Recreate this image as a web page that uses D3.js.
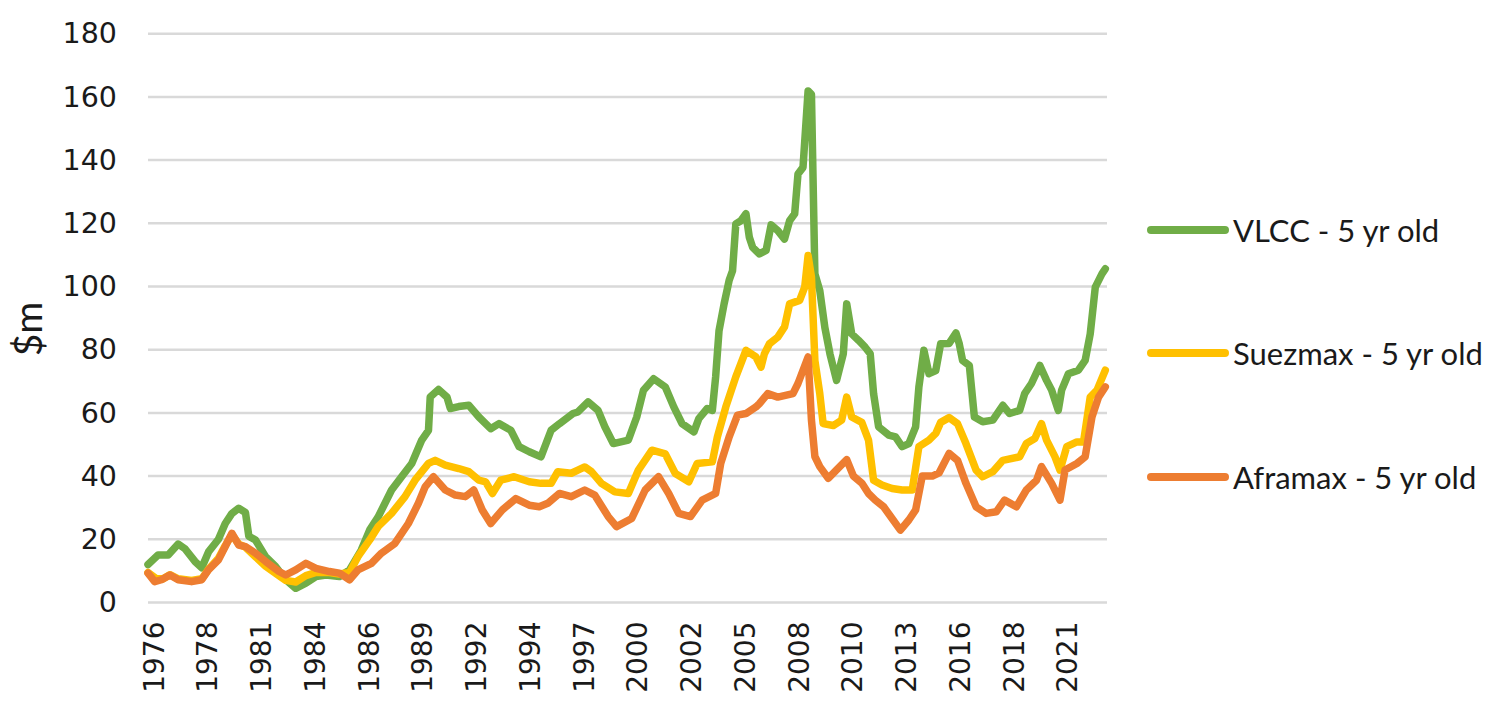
<!DOCTYPE html>
<html>
<head>
<meta charset="utf-8">
<script src="https://cdn.jsdelivr.net/npm/d3@7"></script>
<style>
  html, body { margin: 0; padding: 0; background: #ffffff; }
  svg { display: block; }
</style>
</head>
<body>
<svg id="chart" width="1505" height="709"></svg>
<script>
// ---------------- DATA ----------------
const seriesNames = ["VLCC - 5 yr old", "Suezmax - 5 yr old", "Aframax - 5 yr old"];

const yTicks = [0, 20, 40, 60, 80, 100, 120, 140, 160, 180];

const xTickDates = ["1976-04", "1978-12", "1981-08", "1984-04", "1986-12", "1989-08",
  "1992-04", "1994-12", "1997-08", "2000-04", "2002-12", "2005-08", "2008-04",
  "2010-12", "2013-08", "2016-04", "2018-12", "2021-08"];
const xTickLabels = ["1976", "1978", "1981", "1984", "1986", "1989", "1992", "1994",
  "1997", "2000", "2002", "2005", "2008", "2010", "2013", "2016", "2018", "2021"];

const vlccDates = ["1976-01","1976-07","1977-01","1977-07","1977-11","1978-05","1978-09","1979-01","1979-07","1979-11",
  "1980-03","1980-07","1980-11","1981-01","1981-05","1981-11","1982-05","1982-11","1983-05","1983-11",
  "1984-05","1984-11","1985-07","1986-01","1986-08","1987-01","1987-06","1988-02","1988-08","1989-02",
  "1989-08","1989-12","1990-01","1990-06","1990-11","1991-01","1991-06","1991-12","1992-06","1993-01",
  "1993-06","1994-01","1994-06","1994-12","1995-07","1996-01","1996-06","1997-02","1997-05","1997-11",
  "1998-05","1998-09","1999-02","1999-11","2000-04","2000-08","2001-02","2001-09","2002-02","2002-07",
  "2003-02","2003-05","2003-10","2004-01","2004-03","2004-05","2004-08","2004-11","2005-01","2005-03",
  "2005-06","2005-09","2005-11","2006-01","2006-05","2006-09","2006-12","2007-04","2007-08","2007-11",
  "2008-02","2008-04","2008-07","2008-10","2008-12","2009-02","2009-05","2009-08","2009-11","2010-03",
  "2010-07","2010-09","2010-12","2011-04","2011-08","2011-11","2012-01","2012-04","2012-10","2013-02",
  "2013-06","2013-10","2014-02","2014-04","2014-07","2014-10","2015-02","2015-05","2015-10","2016-02",
  "2016-04","2016-06","2016-10","2017-01","2017-06","2017-12","2018-06","2018-10","2019-04","2019-07",
  "2019-11","2020-04","2020-08","2020-11","2021-03","2021-05","2021-09","2022-03","2022-07","2022-10",
  "2023-01","2023-05","2023-07"];
const vlccValues = [12,15,15,18.5,17,13,11,16,20,25,
  28.2,29.8,28.5,21,19.8,14.5,11.4,7.2,4.5,6.1,
  8.2,8.7,8.2,10.3,16.6,23,27,35.6,39.8,44,
  51.4,54.5,65,67.4,65,61.4,62,62.4,58.7,55,
  56.6,54.5,49.3,47.7,46.1,54.5,56.6,59.8,60.3,63.5,
  60.8,55.6,50.3,51.4,58.7,67.2,70.8,68.2,61.9,56.6,
  54,58.2,61.4,60.8,71.4,86,94.5,102,105,119.8,
  120.8,123,115.6,112.4,110.3,111.4,119.5,117.7,115,120.8,
  123,135.6,137.7,161.9,160.8,104,98.7,87,78.7,70.3,
  78.7,94.5,85,83,80.8,78.7,66.1,55.6,53,52.4,
  49.3,50.3,55.6,68.2,79.8,72.4,73.4,81.9,82,85.3,
  81.9,76.6,75,58.7,57.2,57.7,62.4,59.8,60.8,66.1,
  69.3,75,70.3,67.2,60.8,67.2,72.4,73.5,76.6,85,
  99.8,104,105.6];

const suezDates = ["1976-01","1976-06","1976-10","1977-02","1977-07","1978-03","1978-09","1979-01","1979-07","1979-11",
  "1980-03","1980-07","1980-11","1981-05","1981-11","1982-07","1982-11","1983-05","1983-11","1984-05",
  "1985-01","1985-07","1986-01","1986-06","1987-01","1987-06","1988-02","1988-10","1989-04","1989-12",
  "1990-04","1990-10","1991-06","1991-12","1992-06","1992-10","1993-02","1993-07","1994-03","1994-12",
  "1995-07","1996-01","1996-05","1997-01","1997-05","1997-09","1998-01","1998-07","1999-03","1999-11",
  "2000-05","2001-01","2001-09","2002-03","2002-11","2003-04","2004-01","2004-04","2004-09","2005-03",
  "2005-09","2006-03","2006-06","2006-08","2006-11","2007-04","2007-08","2007-11","2008-05","2008-08",
  "2008-10","2008-12","2009-02","2009-05","2009-07","2010-01","2010-06","2010-09","2010-12","2011-06",
  "2011-10","2012-01","2012-06","2012-12","2013-06","2013-12","2014-04","2014-10","2015-02","2015-05",
  "2015-10","2016-03","2016-08","2017-02","2017-06","2017-12","2018-06","2019-04","2019-08","2020-01",
  "2020-05","2020-08","2021-01","2021-04","2021-08","2022-02","2022-06","2022-10","2023-02","2023-07"];
const suezValues = [9.5,7.5,7.5,8.8,7.5,7,7.5,10.5,14,18,
  21.5,18.5,17.5,14.5,11.5,8.5,7,6.5,8.5,9.5,
  9.5,9,9.5,14.5,19.8,24,28.2,33.5,38.7,44,
  45,43.5,42.4,41.4,38.7,38.2,34.5,38.7,39.8,38.2,
  37.7,37.7,41.4,40.9,41.9,42.9,41.4,37.7,35,34.5,
  41.9,48.2,47,40.8,38.2,44,44.5,52.4,61.9,71.4,
  79.8,77.7,74.5,78.7,81.9,84,87.2,94.5,95.6,99.8,
  109.8,103,76.6,66.1,56.6,56,57.7,65,58.7,57,
  51.4,38.7,37.2,36.1,35.6,35.6,49.3,51.4,53.5,57,
  58.5,56.6,50.3,41.9,39.8,41.4,45,46.1,50.3,51.9,
  56.6,51.4,46.1,41.9,49.3,50.8,50.8,65,67.2,73.5];

const aframDates = ["1976-01","1976-05","1976-09","1977-02","1977-07","1978-03","1978-09","1979-01","1979-07","1979-11",
  "1980-03","1980-07","1980-11","1981-05","1981-11","1982-07","1982-11","1983-05","1983-11","1984-05",
  "1985-01","1985-07","1986-01","1986-06","1987-02","1987-08","1988-04","1988-12","1989-06","1989-10",
  "1990-03","1990-10","1991-04","1991-10","1992-03","1992-08","1993-01","1993-08","1994-04","1994-12",
  "1995-06","1995-11","1996-06","1997-01","1997-09","1998-03","1998-11","1999-04","2000-01","2000-09",
  "2001-05","2001-11","2002-05","2002-12","2003-07","2004-03","2004-06","2004-11","2005-04","2005-09",
  "2006-03","2006-05","2006-10","2007-04","2008-01","2008-04","2008-10","2008-12","2009-02","2009-05",
  "2009-10","2010-03","2010-09","2011-01","2011-06","2011-10","2012-02","2012-07","2012-12","2013-05",
  "2013-10","2014-02","2014-06","2014-12","2015-04","2015-10","2016-03","2016-08","2017-02","2017-08",
  "2018-02","2018-07","2019-02","2019-08","2020-02","2020-05","2020-11","2021-04","2021-07","2022-02",
  "2022-07","2022-11","2023-03","2023-07"];
const aframValues = [9.3,6.6,7.2,8.7,7.2,6.6,7.2,10.3,13.5,17.7,
  21.9,18.2,17.7,15.6,13,9.8,8.7,10.3,12.4,10.8,
  9.8,9.3,7.2,10.3,12.4,15.6,18.7,25,31.4,36.6,
  39.8,35.6,34,33.5,35.6,29.3,25,29.3,32.9,30.8,
  30.3,31.4,34.5,33.5,35.6,34,27.2,24,26.6,35.6,
  39.8,34.5,28.2,27.2,32.4,34.5,44,52.4,59.3,59.8,
  61.9,62.9,66.1,65,66.1,69.3,77.7,57.7,46.2,43,
  39.3,42,45.2,40,37.8,34.5,32.4,30.3,26.6,22.9,
  26.1,29.3,40,40,41,47.2,45,37.7,30.3,28.2,
  28.7,32.4,30.3,35.6,38.7,43,37.7,32.4,41.9,44,
  46.1,58.7,65,68.2];

const seriesColors = ["#70AD47", "#FFC000", "#ED7D31"];

// ---------------- CHART ----------------
const parse = d3.timeParse("%Y-%m");
const svg = d3.select("#chart");

const plot = { left: 148, right: 1107, top: 33.7, bottom: 602.5 };

const x = d3.scaleTime()
  .domain([parse("1976-01"), parse("2023-08")])
  .range([plot.left, plot.right]);
const y = d3.scaleLinear()
  .domain([0, 180])
  .range([plot.bottom, plot.top]);

// gridlines
svg.append("g")
  .selectAll("line")
  .data(yTicks)
  .join("line")
  .attr("x1", plot.left)
  .attr("x2", plot.right)
  .attr("y1", d => y(d))
  .attr("y2", d => y(d))
  .attr("stroke", "#D9D9D9")
  .attr("stroke-width", 2.5);

// y axis labels
const yAxis = d3.axisLeft(y).tickValues(yTicks).tickSize(0).tickPadding(0);
const gy = svg.append("g")
  .attr("transform", `translate(117,0)`)
  .call(yAxis);
gy.select(".domain").remove();
gy.selectAll("text")
  .attr("font-family", "'DejaVu Sans', Verdana, sans-serif")
  .attr("font-size", 28.5)
  .attr("fill", "#1a1a1a");

// x axis labels (rotated)
const xAxis = d3.axisBottom(x)
  .tickValues(xTickDates.map(parse))
  .tickFormat((d, i) => xTickLabels[i])
  .tickSize(0);
const gx = svg.append("g")
  .attr("transform", `translate(0,${plot.bottom})`)
  .call(xAxis);
gx.select(".domain").remove();
gx.selectAll("text")
  .attr("font-family", "'DejaVu Sans', Verdana, sans-serif")
  .attr("font-size", 28)
  .attr("fill", "#1a1a1a")
  .attr("text-anchor", "end")
  .attr("transform", "rotate(-90)")
  .attr("x", -19)
  .attr("y", 0)
  .attr("dy", "0.36em");

// y axis title
svg.append("text")
  .attr("transform", "translate(42,329) rotate(-90)")
  .attr("text-anchor", "middle")
  .attr("font-family", "Lato, 'Open Sans', sans-serif")
  .attr("font-size", 39)
  .attr("fill", "#1a1a1a")
  .text("$m");

// lines
const line = d3.line()
  .x(d => x(d.date))
  .y(d => y(d.value))
  .curve(d3.curveLinear);

const allSeries = [
  { name: seriesNames[0], dates: vlccDates, values: vlccValues, color: seriesColors[0] },
  { name: seriesNames[1], dates: suezDates, values: suezValues, color: seriesColors[1] },
  { name: seriesNames[2], dates: aframDates, values: aframValues, color: seriesColors[2] }
];

svg.append("g")
  .selectAll("path")
  .data(allSeries)
  .join("path")
  .attr("fill", "none")
  .attr("stroke", d => d.color)
  .attr("stroke-width", 7.5)
  .attr("stroke-linejoin", "round")
  .attr("stroke-linecap", "round")
  .attr("d", s => line(s.dates.map((dt, i) => ({ date: parse(dt), value: s.values[i] }))));

// legend
const legendY = [230, 353, 477];
const lg = svg.append("g")
  .selectAll("g")
  .data(allSeries)
  .join("g")
  .attr("transform", (d, i) => `translate(0,${legendY[i]})`);
lg.append("line")
  .attr("x1", 1151).attr("x2", 1225)
  .attr("y1", 0).attr("y2", 0)
  .attr("stroke", d => d.color)
  .attr("stroke-width", 8)
  .attr("stroke-linecap", "round");
lg.append("text")
  .attr("x", 1233)
  .attr("y", 0)
  .attr("dominant-baseline", "central")
  .attr("font-family", "Lato, 'Open Sans', sans-serif")
  .attr("font-size", 31)
  .attr("fill", "#1a1a1a")
  .text(d => d.name);
</script>
</body>
</html>
